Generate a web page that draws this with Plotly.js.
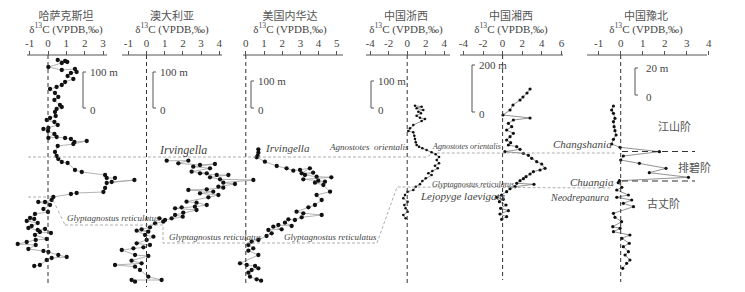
<!DOCTYPE html>
<html><head><meta charset="utf-8">
<script src="https://cdn.plot.ly/plotly-3.0.1.min.js"></script>
<style>html,body{margin:0;padding:0;background:#fff}#chart{width:745px;height:292px}</style>
</head><body><div id="chart"></div>
<script>
// ---- data: δ13C values (‰) and stratigraphic level (shared vertical scale, top = 0) ----
const kazakhVal = [0.53,0.93,1.05,0.75,0.02,0.75,1.47,1.56,1.25,1.07,1.38,0.93,0.75,0.47,0.11,0.38,0.56,0.35,0.65,0.75,0.47,0.38,0.42,0.11,-0.07,0.35,0.53,0.02,-0.25,0,0.35,0.02,0.47,0.93,1.25,1.44,2.11,1.38,0.53,0.38,0.47,0.56,0.75,1.07,1.47,1.84,3.11,3.2,3.65,3.47,4.71,3.2,3.11,3.02,1.56,1.25,0.29,0.2,-0.16,-0.53,0.11,-0.25,0,-0.71,-0.98,-0.75,-1.16,-0.56,-0.89,-1.07,-0.56,-0.16,0.16,-0.44,-0.71,-0.07,-0.67,-1.16,-1.65,-0.67,-1.07,-0.25,0.02,0.56,1.02,0.2,-0.07,-0.44,-0.75];
const kazakhLvl = [60,61,62,63,67,70,69,72,73,76,79,82,85,87,89,93,97,100,105,107,109,112,116,118,120,122,125,128,129,131,134,138,137,138,139,142,141,144,146,152,156,159,162,163,170,172,175,178,178,182,180,183,188,192,193,194,197,200,202,202,205,209,212,214,218,219,221,223,226,228,230,229,233,232,235,239,240,242,244,245,249,251,252,255,257,258,260,265,266];

const australiaVal = [1.11,2.3,1.75,2.94,3.76,2.57,3.49,2.48,3.31,2.94,3.86,4.5,3.49,4.04,5.87,4.22,4.86,3.95,4.22,3.31,2.3,3.67,2.94,3.95,3.4,2.2,2.75,3.31,2.66,1.93,1.57,2.75,2.02,1.57,1.99,1.38,1.02,0.71,0.92,0.47,0.19,-0.27,0.1,-0.54,-0.08,0.38,0.01,-0.54,0.19,-0.17,-0.72,-1.36,-0.63,0.1,-0.82,-0.27,-1.73,-0.63,-0.36,0.1,0.83,-0.82,-0.63];
const australiaLvl = [160.7,160.7,163.3,165,164,166.7,168.3,171.7,173.3,173.3,175,175,177.3,179.3,180,182.7,184,186.7,187.7,189.3,190,191.7,193.3,195,197.3,201.7,202.7,205,206.7,207.3,208.3,210,212.7,215,216.7,218.3,220,218.3,221.7,223.3,227.3,229.3,231.7,230.7,235,236.7,240,243.3,245,247.3,248.3,250,255,256,260.7,263.3,265,266.7,270,276.7,280,280,281.7];

const nevadaVal = [0.69,0.69,0.65,0.6,1.05,1.7,2.24,2.61,2.98,3.52,3.07,3.7,3.25,3.89,4.7,3.16,3.98,4.35,3.8,4.26,4.63,3.89,4.17,3.8,3.44,2.79,3.16,4.17,3.07,2.7,2.34,2.15,2.52,1.79,1.51,1.97,1.24,1.42,1.14,0.69,0.32,0.14,0.41,0.14,0.69,-0.32,0.05,0.51,0.69,0.32,0.14,0.23,0.6,0.84];
const nevadaLvl = [149.3,152.7,156,157.3,161.7,166,168.3,170.7,170,168.3,173.3,172.7,175,176.7,177.3,179.3,180.7,181.7,182.7,185,191.7,195,200,205,207.3,211.7,213.3,215,217.3,220,219.3,222.7,226,225,226.7,229.3,230,233.3,236,240,241.7,245,248.3,250.7,255,263.3,265,266,268.3,270,272.7,276.7,279.3,280.7];

const zhejiangVal = [0.84,1.56,1.02,1.74,1.2,1.49,1.02,1.38,1.92,1.56,0.66,0.3,0.12,0.66,0.77,0.84,0.92,1.02,1.28,1.64,2.1,2.64,3.08,3.44,3.19,3.44,3.0,3.3,2.72,2.28,2.64,2.0,1.64,1.38,0.92,0.66,0.05,-0.24,-0.42,0.05,-0.31,-0.17,0.05,-0.42,-0.17];
const zhejiangLvl = [105.7,106.7,108.3,110,111.7,113.3,115.7,117.7,119,121,125,128.3,131,132.3,135.7,139,142.3,145,146.7,148.3,150,152.3,154.3,157,160,163.3,165.7,168.3,171,173.3,175,178.3,181,184.3,186.7,190,191.7,195,198.3,201.7,205,208.3,211.7,215,218.3];

const xiangxiVal = [2.8,2.49,2.08,1.78,1.06,0.76,0.04,2.8,1.1,0.59,0.93,0.41,1.1,0.76,0.41,0.82,0.59,1.44,1.78,0.24,2.12,2.63,2.97,3.48,3.99,4.33,3.82,3.14,2.8,2.39,2.12,1.78,1.44,3.2,1.27,0.76,0.41,-0.1,-0.61,0.07,-0.33,0.35,-0.2,0.59,-0.27,0.41,-0.1];
const xiangxiLvl = [89,93,97,100,105,110,115,118,120,123.3,126.7,130,133.3,136.7,140,142.7,145,146.7,149.3,151.7,153.3,155.3,158.3,161.7,164,168.3,170,171.7,174,176.7,178.7,180.7,183.3,184.3,186.7,188.7,191.7,195,197.3,199.3,201.7,205,208.3,210.7,214,216.7,219.3];

const yubeiVal = [-0.33,-0.41,-0.33,-0.26,-0.33,-0.3,-0.26,-0.21,-0.33,-0.41,-0.03,1.76,0.12,0,0.85,2.06,1.3,3.08,-0.06,-0.11,0.05,-0.18,0.35,-0.18,0.5,0.12,0.58,-0.33,-0.26,0.04,-0.36,-0.03,-0.33,0.42,0.05,0.39,0.12,0.35,0.2,0.42,0.27,0.09];
const yubeiLvl = [106,110,113.3,118.3,121.7,126.7,130.7,135,139.3,144,147.3,151.7,156,160,163.3,168.3,172.7,177.3,180.7,182.7,187.3,190,195,197.3,200,203.3,206.7,213.3,217.3,221.7,226.7,228.3,231.7,235,238.3,243.3,246.7,251.7,255,260,263.3,268.3];

const sectionNames = ['哈萨克斯坦','澳大利亚','美国内华达','中国浙西','中国湘西','中国豫北'];
const tickSets = [[-1,0,1,2,3],[-1,0,1,2,3,4],[0,1,2,3,4,5],[-4,-2,0,2,4],[-4,-2,0,2,4,6],[-1,0,1,2,3,4]];
const scaleLabels = ['100 m','100 m','100 m','100 m','200 m','20 m'];

// ---- layout geometry (pixels) ----
const W = 745, H = 292, AXY = 55;
const geo = [
  {zero:48,    s:18.35, dom:[6,145],   line:[27,107],  cx:66,  mk:4.3, zEnd:286, bar:[83,72,108,5]},
  {zero:146.5, s:18.2,  dom:[105,262], line:[122,222], cx:172, mk:4.3, zEnd:287, bar:[153,72,108,5]},
  {zero:245.8, s:18.2,  dom:[235,345], line:[243,343], cx:290, mk:4.3, zEnd:285, bar:[251,81,108,5]},
  {zero:407.2, s:9.25,  dom:[358,456], line:[366,450], cx:406, mk:2.6, zEnd:285, bar:[371,81,108,5]},
  {zero:502.6, s:9.8,   dom:[458,566], line:[460,563], cx:511, mk:3.2, zEnd:280, bar:[472,65,112,5]},
  {zero:620.7, s:22,    dom:[585,722], line:[587,707], cx:646, mk:3.2, zEnd:282, bar:[635,68,95,9]}
];
const series = [[kazakhVal,kazakhLvl],[australiaVal,australiaLvl],[nevadaVal,nevadaLvl],[zhejiangVal,zhejiangLvl],[xiangxiVal,xiangxiLvl],[yubeiVal,yubeiLvl]];

const P = x => x / W;
const serif = 'Liberation Serif, Times New Roman, serif';
const cjk = 'Noto Sans CJK SC, sans-serif';
const txt = '#444';

const data = [], shapes = [], annotations = [];
const layout = {
  width: W, height: H, margin: {l:0, r:0, t:0, b:0, autoexpand:false},
  paper_bgcolor: '#fff', plot_bgcolor: 'rgba(0,0,0,0)', showlegend: false,
  yaxis: {domain:[0,1], range:[H,0], autorange:false, visible:false, fixedrange:true},
  shapes, annotations
};

geo.forEach((g, i) => {
  const ax = i === 0 ? 'x' : 'x' + (i + 1);
  const key = i === 0 ? 'xaxis' : 'xaxis' + (i + 1);
  layout[key] = {
    domain: [P(g.dom[0]), P(g.dom[1])],
    range: [(g.dom[0] - g.zero) / g.s, (g.dom[1] - g.zero) / g.s], autorange: false,
    anchor: 'free', position: 1 - AXY / H, side: 'top', automargin: false,
    showline: false, showgrid: false, zeroline: false,
    ticks: 'outside', ticklen: 4, tickwidth: 1, tickcolor: '#555',
    tickvals: tickSets[i], ticktext: tickSets[i].map(String),
    tickfont: {family: serif, size: 11, color: txt}, fixedrange: true
  };
  const [v, l] = series[i];
  data.push({
    type: 'scatter', mode: 'lines+markers', x: v, y: l, xaxis: ax, yaxis: 'y',
    line: {color: i >= 3 ? '#777' : '#a0a0a0', width: 0.8},
    marker: {color: '#111', size: g.mk}, hoverinfo: 'skip', cliponaxis: false
  });
  // section title + δ13C caption, drawn as centred text in the panel's own axis
  const c = (g.cx - g.zero) / g.s;
  data.push({
    type: 'scatter', mode: 'text', x: [c, c], y: [17, 30], xaxis: ax, yaxis: 'y',
    text: [sectionNames[i], 'δ<sup>13</sup>C (VPDB,‰)'], textposition: 'middle center',
    textfont: {family: [cjk, serif], size: [11, 11], color: ['#555', txt]},
    hoverinfo: 'skip', cliponaxis: false
  });
  shapes.push({type:'line', xref:'paper', yref:'y', x0:P(g.line[0]), x1:P(g.line[1]), y0:AXY, y1:AXY, line:{color:'#555', width:1}});
  shapes.push({type:'line', xref:ax, yref:'y', x0:0, x1:0, y0:AXY, y1:g.zEnd, line:{color:'#333', width:1, dash:'4px,3px'}});
  const [bx, bt, bb, off] = g.bar;
  shapes.push({type:'path', xref:'paper', yref:'y',
    path:`M ${P(bx+3)} ${bt} L ${P(bx)} ${bt} L ${P(bx)} ${bb} L ${P(bx+3)} ${bb}`,
    line:{color:'#555', width:1}});
  annotations.push({xref:'paper', yref:'y', x:P(bx+off), y:bt, text:scaleLabels[i], showarrow:false, xanchor:'left', yanchor:'middle', font:{family:serif, size:11, color:txt}});
  annotations.push({xref:'paper', yref:'y', x:P(bx+off), y:bb+2, text:'0', showarrow:false, xanchor:'left', yanchor:'middle', font:{family:serif, size:11, color:txt}});
});

// correlation lines
const pathOf = pts => pts.map((p, k) => (k ? 'L ' : 'M ') + P(p[0]) + ' ' + p[1]).join(' ');
const light = {color:'#9a9a9a', width:0.8, dash:'3px,2px'};
shapes.push({type:'path', xref:'paper', yref:'y', path:pathOf([[28,157],[427,157],[433,153],[615,153]]), line:light});
shapes.push({type:'path', xref:'paper', yref:'y', path:pathOf([[28,197],[52,197]]), line:light});
shapes.push({type:'path', xref:'paper', yref:'y', path:pathOf([[53,200],[65,225]]), line:{color:'#9a9a9a', width:0.8, dash:'dot'}});
shapes.push({type:'path', xref:'paper', yref:'y', path:pathOf([[65,225],[163,225],[163,243],[377,243],[397,187],[610,188],[617,182]]), line:light});
const heavy = {color:'#333', width:1.2, dash:'6px,4px'};
shapes.push({type:'line', xref:'paper', yref:'y', x0:P(622), x1:P(695), y0:151.5, y1:151.5, line:heavy});
shapes.push({type:'line', xref:'paper', yref:'y', x0:P(622), x1:P(695), y0:181, y1:181, line:heavy});

// taxon labels
const labels = [
  ['Irvingella',157,150,12],['Irvingella',263,148,11],
  ['Agnostotes  orientalis',327,147,9],['Agnostotes orientalis',430,146,8],
  ['Glyptagnostus reticulatus',65,218,9],['Glyptagnostus reticulatus',167,237,9],
  ['Glyptagnostus reticulatus',282,237,9],['Glyptagnostus reticulatus',430,184.5,8],
  ['Lejopyge laevigata',418,196,11],['Changshania',551,144,11],
  ['Chuangia',568,182,11],['Neodrepanura',548,197,10]
];
labels.forEach(([t, x, y, s]) => annotations.push({xref:'paper', yref:'y', x:P(x), y:y, text:t, showarrow:false, xanchor:'left', yanchor:'middle', font:{family:serif, size:s, color:txt, style:'italic'}}));
const stages = [['江山阶',656,126],['排碧阶',676,167],['古丈阶',645,203]];
stages.forEach(([t, x, y]) => annotations.push({xref:'paper', yref:'y', x:P(x), y:y, text:t, showarrow:false, xanchor:'left', yanchor:'middle', font:{family:cjk, size:11, color:'#555'}}));

Plotly.newPlot('chart', data, layout, {staticPlot:true, displayModeBar:false});
</script></body></html>
